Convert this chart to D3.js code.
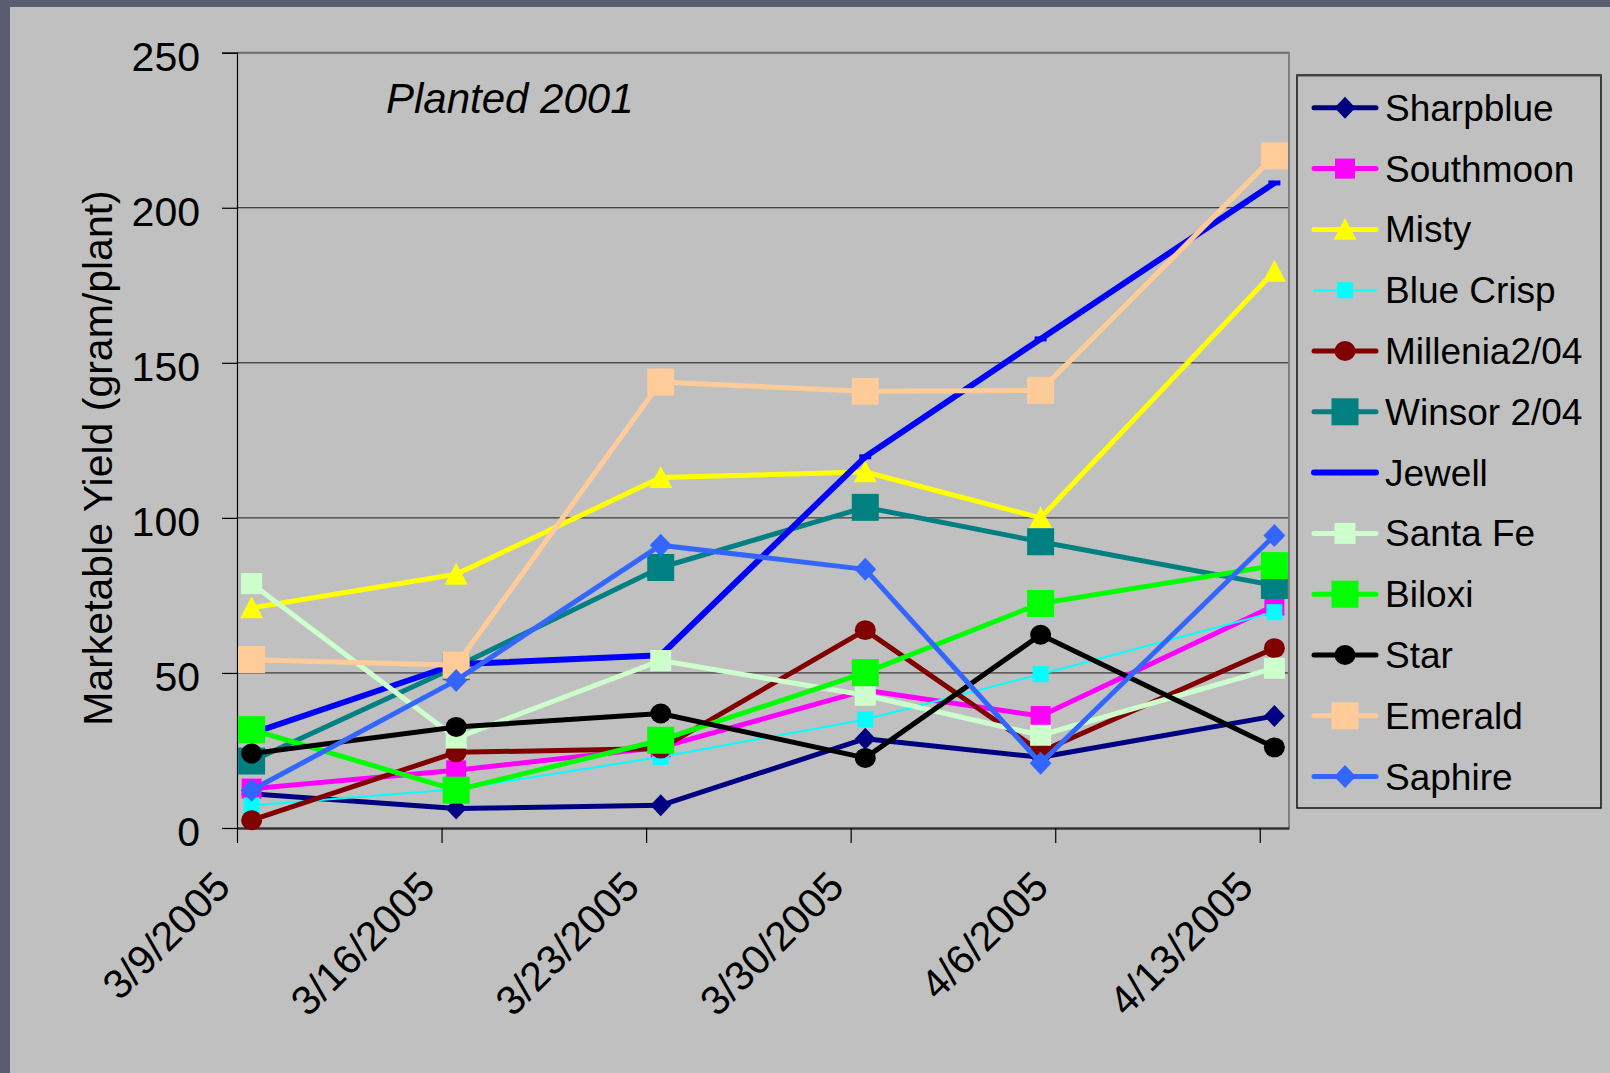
<!DOCTYPE html>
<html>
<head>
<meta charset="utf-8">
<script src="https://cdn.jsdelivr.net/npm/d3@7"></script>
<style>
  html, body { margin: 0; padding: 0; background: #5a5c6f; }
  svg { display: block; }
  text { font-family: "Liberation Sans", Arial, sans-serif; }
</style>
</head>
<body>
<svg id="chart" width="1610" height="1073"></svg>
<script>
// ---------------- data ----------------
const sampleDates = ["2005-03-09", "2005-03-16", "2005-03-23", "2005-03-30", "2005-04-05", "2005-04-13"];
const tickDates = ["2005-03-09", "2005-03-16", "2005-03-23", "2005-03-30", "2005-04-06", "2005-04-13"];
const yTicks = [0, 50, 100, 150, 200, 250];

const seriesNames = ["Sharpblue", "Southmoon", "Misty", "Blue Crisp", "Millenia2/04", "Winsor 2/04",
                     "Jewell", "Santa Fe", "Biloxi", "Star", "Emerald", "Saphire"];
const sharpblue = [11, 6.3, 7.3, 28.8, 22.8, 36.1];
const southmoon = [12.7, 18.6, 26, 44.4, 36.1, 71.7];
const misty     = [71, 81.8, 113, 114.8, 100, 179.5];
const blueCrisp = [7.3, 12.5, 22.9, 35, 49.6, 69.6];
const millenia  = [2.5, 24.4, 25.6, 63.8, 24.6, 58];
const winsor    = [21.6, 52, 84, 103.4, 92.3, 78.2];
const jewell    = [30.5, 52.8, 55.7, 119.7, 157.7, 208];
const santaFe   = [78.8, 29, 54, 42.8, 29.9, 51.5];
const biloxi    = [31.7, 12.2, 28.3, 50.1, 72.4, 84.6];
const star      = [24, 32.6, 36.9, 22.6, 62.3, 26];
const emerald   = [54.3, 52.5, 143.8, 140.8, 141.1, 216.7];
const saphire   = [12.2, 47.6, 91.2, 83.4, 20.9, 94.3];
const seriesValues = [sharpblue, southmoon, misty, blueCrisp, millenia, winsor,
                      jewell, santaFe, biloxi, star, emerald, saphire];

// styles
const seriesStyles = [
  {color: "#000080", width: 5, marker: "diamond", size: 22},
  {color: "#ff00ff", width: 5, marker: "square", size: 20},
  {color: "#ffff00", width: 5, marker: "triangle", size: 23},
  {color: "#00ffff", width: 2, marker: "square", size: 16},
  {color: "#800000", width: 5, marker: "circle", size: 21},
  {color: "#008080", width: 5, marker: "square", size: 27},
  {color: "#0000ff", width: 6, marker: "dash", size: 24},
  {color: "#ccffcc", width: 5, marker: "square", size: 21},
  {color: "#00ff00", width: 5, marker: "square", size: 27},
  {color: "#000000", width: 5, marker: "circle", size: 21},
  {color: "#ffcc99", width: 5, marker: "square", size: 27},
  {color: "#3366ff", width: 5, marker: "diamond", size: 23}
];

// ---------------- layout ----------------
const W = 1610, H = 1073;
const plot = {left: 237, right: 1289, top: 52.7, bottom: 828};
const svg = d3.select("#chart");

svg.append("rect").attr("x", 0).attr("y", 0).attr("width", W).attr("height", H).attr("fill", "#5a5c6f");
svg.append("rect").attr("x", 10).attr("y", 7).attr("width", W - 10).attr("height", H - 7).attr("fill", "#c0c0c0");

const parse = d3.utcParse("%Y-%m-%d");
const fmt = d3.utcFormat("%-m/%-d/%Y");
const x = d3.scaleUtc()
  .domain([parse("2005-03-09"), parse("2005-04-14")])
  .range([plot.left, plot.right]);
const y = d3.scaleLinear().domain([0, 250]).range([plot.bottom, plot.top]);

// points sit in the middle of their day on the date axis
const px = d => x(d3.utcHour.offset(parse(d), 12));

// gridlines
svg.append("g").selectAll("line").data(yTicks.filter(v => v > 0 && v < 250)).join("line")
  .attr("x1", plot.left).attr("x2", plot.right)
  .attr("y1", d => y(d)).attr("y2", d => y(d))
  .attr("stroke", "#1a1a1a").attr("stroke-width", 1);
// top border
svg.append("line").attr("x1", plot.left).attr("x2", plot.right)
  .attr("y1", y(250)).attr("y2", y(250)).attr("stroke", "#6a6a6a").attr("stroke-width", 2);
// right border
svg.append("line").attr("x1", plot.right).attr("x2", plot.right)
  .attr("y1", y(250) - 1).attr("y2", plot.bottom).attr("stroke", "#808080").attr("stroke-width", 2);

// y axis
const yAxis = d3.axisLeft(y).tickValues(yTicks).tickSize(15).tickPadding(22);
const gy = svg.append("g").attr("transform", `translate(${plot.left},0)`).call(yAxis);
gy.select(".domain").attr("stroke", "#000").attr("stroke-width", 1.2);
gy.selectAll(".tick line").attr("stroke", "#000").attr("stroke-width", 1.2);
gy.selectAll(".tick text").attr("font-size", 41).attr("fill", "#000")
  .attr("font-family", "'Liberation Sans', Arial, sans-serif")
  .attr("dy", null).attr("y", 17.5).attr("x", -37);

// x axis
const xAxis = d3.axisBottom(x).tickValues(tickDates.map(parse)).tickFormat(fmt).tickSize(15).tickSizeOuter(0);
const gx = svg.append("g").attr("transform", `translate(0,${plot.bottom})`).call(xAxis);
gx.select(".domain").attr("stroke", "#333").attr("stroke-width", 2.5);
gx.selectAll(".tick line").attr("stroke", "#000").attr("stroke-width", 1.2);
gx.selectAll(".tick text").attr("font-size", 41).attr("fill", "#000")
  .attr("font-family", "'Liberation Sans', Arial, sans-serif")
  .attr("text-anchor", "end").attr("dy", null).attr("y", 0)
  .attr("transform", "translate(-5,61) rotate(-45)");

// y title
svg.append("text").attr("transform", "translate(111.5,458) rotate(-90)")
  .attr("text-anchor", "middle").attr("font-size", 41).attr("fill", "#000")
  .text("Marketable Yield (gram/plant)");

// annotation
svg.append("text").attr("x", 386).attr("y", 113).attr("font-size", 42)
  .attr("font-style", "italic").attr("fill", "#000").text("Planted 2001");

// markers
function marker(g, type, size, color, cx, cy) {
  const h = size / 2;
  if (type === "square") {
    g.append("rect").attr("x", cx - h).attr("y", cy - h).attr("width", size).attr("height", size).attr("fill", color);
  } else if (type === "circle") {
    g.append("ellipse").attr("cx", cx).attr("cy", cy).attr("rx", h).attr("ry", h * 0.95).attr("fill", color);
  } else if (type === "diamond") {
    g.append("path").attr("d", `M${cx},${cy - h}L${cx + h * 0.95},${cy}L${cx},${cy + h}L${cx - h * 0.95},${cy}Z`).attr("fill", color);
  } else if (type === "triangle") {
    g.append("path").attr("d", `M${cx},${cy - h}L${cx + h},${cy + h * 0.9}L${cx - h},${cy + h * 0.9}Z`).attr("fill", color);
  } else if (type === "dash") {
    g.append("rect").attr("x", cx - h / 2).attr("y", cy - 2.5).attr("width", h).attr("height", 5).attr("fill", color);
  }
}

// series
const line = d3.line().x(d => px(d.date)).y(d => y(d.value));
const gSeries = svg.append("g");
seriesNames.forEach((name, i) => {
  const st = seriesStyles[i];
  const pts = sampleDates.map((d, j) => ({date: d, value: seriesValues[i][j]}));
  const g = gSeries.append("g");
  g.append("path").datum(pts).attr("d", line).attr("fill", "none")
    .attr("stroke", st.color).attr("stroke-width", st.width).attr("stroke-linejoin", "round");
  pts.forEach(p => marker(g, st.marker, st.size, st.color, px(p.date), y(p.value)));
});

// legend
const legend = svg.append("g");
legend.append("rect").attr("x", 1297).attr("y", 75).attr("width", 304).attr("height", 733)
  .attr("fill", "none").attr("stroke", "#111").attr("stroke-width", 1.5);
legend.append("line").attr("x1", 1297).attr("x2", 1601).attr("y1", 75.5).attr("y2", 75.5)
  .attr("stroke", "#444").attr("stroke-width", 2);
seriesNames.forEach((name, i) => {
  const st = seriesStyles[i];
  const cy = 107.8 + i * 60.8;
  legend.append("line").attr("x1", 1314).attr("x2", 1376).attr("y1", cy).attr("y2", cy)
    .attr("stroke", st.color).attr("stroke-width", st.width).attr("stroke-linecap", "round");
  marker(legend, st.marker, st.size, st.color, 1345, cy);
  legend.append("text").attr("x", 1385).attr("y", cy + 13).attr("font-size", 37)
    .attr("fill", "#000").text(name);
});
</script>
</body>
</html>
